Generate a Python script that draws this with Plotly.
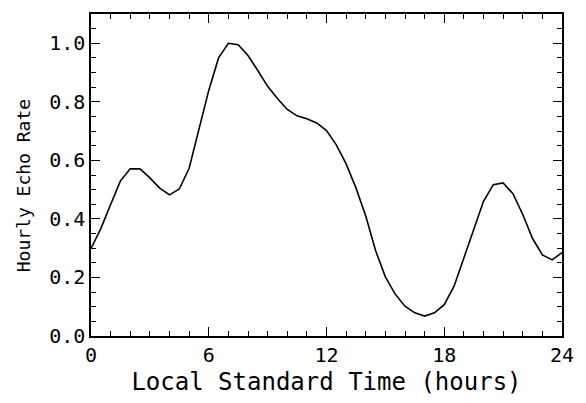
import plotly.graph_objects as go

# Hourly echo rate sampled every half hour of local standard time
hours = [i * 0.5 for i in range(49)]
echo_rate = [
    0.299, 0.367, 0.449, 0.530, 0.571, 0.571, 0.540, 0.505, 0.482, 0.502,
    0.573, 0.710, 0.839, 0.950, 1.000, 0.995, 0.958, 0.907, 0.853, 0.811,
    0.774, 0.752, 0.742, 0.728, 0.702, 0.653, 0.588, 0.506, 0.410, 0.292,
    0.202, 0.143, 0.102, 0.079, 0.068, 0.079, 0.107, 0.170, 0.265, 0.360,
    0.460, 0.517, 0.523, 0.486, 0.415, 0.333, 0.277, 0.260, 0.285,
]

x_ticks = [0, 6, 12, 18, 24]
y_ticks = [0.0, 0.2, 0.4, 0.6, 0.8, 1.0]

font_family = "DejaVu Sans Mono, Liberation Mono, monospace"

fig = go.Figure(
    go.Scatter(
        x=hours,
        y=echo_rate,
        mode="lines",
        line=dict(color="black", width=1.6),
        hoverinfo="skip",
    )
)

axis_common = dict(
    showline=True,
    linecolor="black",
    linewidth=1.5,
    mirror="allticks",
    ticks="inside",
    tickcolor="black",
    tickwidth=1.3,
    ticklen=9,
    showgrid=False,
    zeroline=False,
    tickfont=dict(family=font_family, size=20, color="black"),
)

fig.update_xaxes(
    range=[0, 24],
    tickvals=x_ticks,
    ticktext=[str(v) for v in x_ticks],
    minor=dict(dtick=1, tick0=0, ticks="inside", ticklen=5, tickcolor="black", tickwidth=1.2),
    title=dict(text="Local Standard Time (hours)", font=dict(family=font_family, size=24, color="black"), standoff=7),
    **axis_common,
)
fig.update_yaxes(
    range=[0, 1.1],
    tickvals=y_ticks,
    ticktext=[f"{v:.1f}" for v in y_ticks],
    minor=dict(dtick=0.05, tick0=0, ticks="inside", ticklen=5, tickcolor="black", tickwidth=1.2),
    **axis_common,
)

# Vertical axis label, placed as a rotated annotation left of the tick labels
fig.add_annotation(
    text="Hourly Echo Rate",
    xref="paper", yref="paper",
    x=-0.143, y=0.467,
    xanchor="center", yanchor="middle",
    textangle=-90,
    showarrow=False,
    font=dict(family=font_family, size=18, color="black"),
)

fig.update_layout(
    width=586,
    height=403,
    margin=dict(l=91, r=14, t=13, b=66),
    paper_bgcolor="white",
    plot_bgcolor="white",
    showlegend=False,
)

fig.write_html("out.html")
